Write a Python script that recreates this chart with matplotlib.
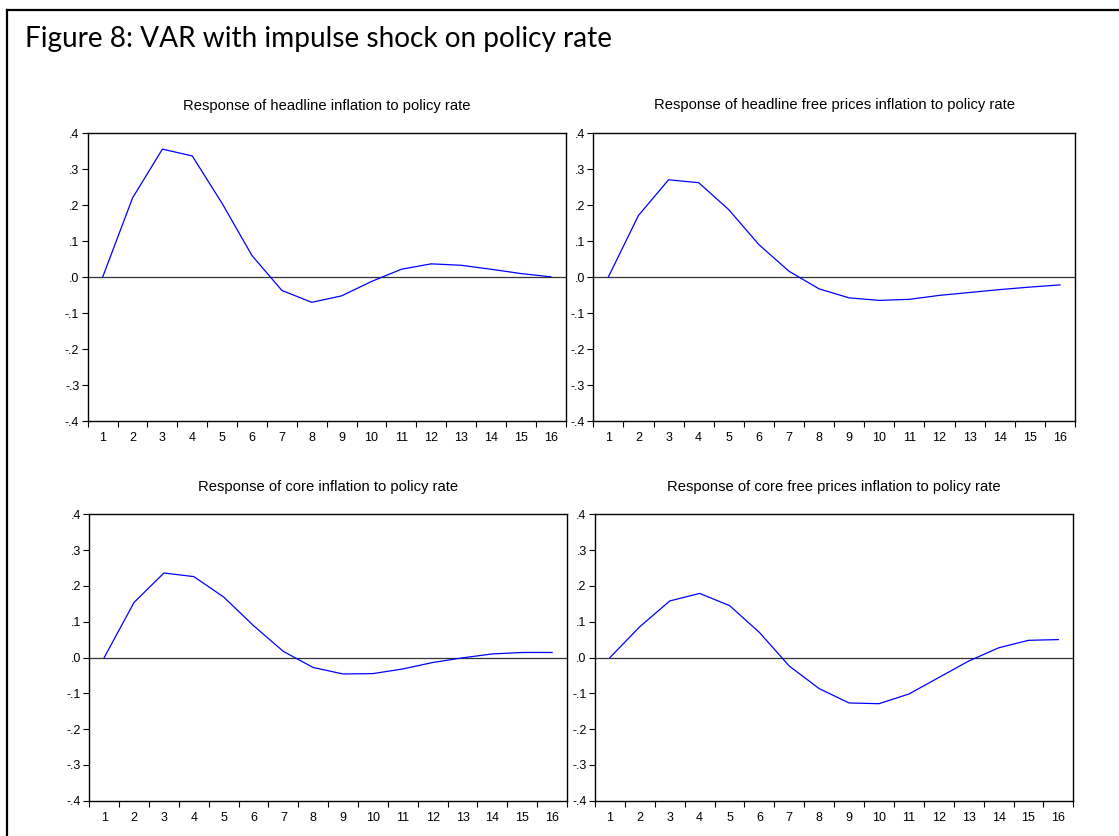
import matplotlib
matplotlib.use("Agg")
import matplotlib.pyplot as plt
from matplotlib.lines import Line2D
from matplotlib.ticker import FixedLocator, FixedFormatter

periods = list(range(1, 17))

headline = [0.0, 0.220, 0.356, 0.337, 0.205, 0.060, -0.037, -0.070, -0.052, -0.012,
            0.022, 0.037, 0.033, 0.022, 0.010, 0.001]
headline_free = [0.0, 0.171, 0.270, 0.262, 0.187, 0.090, 0.016, -0.033, -0.058, -0.065,
                 -0.062, -0.051, -0.043, -0.035, -0.028, -0.022]
core = [0.0, 0.154, 0.236, 0.226, 0.169, 0.089, 0.017, -0.028, -0.046, -0.045,
        -0.032, -0.014, -0.001, 0.010, 0.014, 0.014]
core_free = [0.0, 0.086, 0.158, 0.179, 0.145, 0.070, -0.024, -0.087, -0.127, -0.129,
             -0.102, -0.056, -0.010, 0.027, 0.048, 0.050]

titles = ["Response of headline inflation to policy rate",
          "Response of headline free prices inflation to policy rate",
          "Response of core inflation to policy rate",
          "Response of core free prices inflation to policy rate"]
series = [headline, headline_free, core, core_free]

y_ticks = [-0.4, -0.3, -0.2, -0.1, 0.0, 0.1, 0.2, 0.3, 0.4]
y_labels = ["-.4", "-.3", "-.2", "-.1", ".0", ".1", ".2", ".3", ".4"]
main_title = "Figure 8: VAR with impulse shock on policy rate"

W, H = 1119, 836
fig = plt.figure(figsize=(W / 100, H / 100), dpi=100)
fig.patch.set_facecolor("white")

# panel rectangles in pixels (left, top, right, bottom)
rects = [(87.7, 133.3, 565.7, 421.0),
         (593.3, 133.0, 1075.0, 421.0),
         (89.3, 514.3, 567.0, 800.7),
         (595.0, 514.3, 1073.3, 800.7)]

for (l, t, r, b), title, vals in zip(rects, titles, series):
    ax = fig.add_axes([l / W, 1 - b / H, (r - l) / W, (b - t) / H])
    ax.plot(periods, vals, color="#0000FF", lw=0.9, zorder=3)
    ax.axhline(0, color="#333333", lw=0.9, zorder=2)
    ax.set_xlim(0.5, 16.5)
    ax.set_ylim(-0.4, 0.4)
    ax.xaxis.set_major_locator(FixedLocator([p + 0.5 for p in [0] + periods]))
    ax.xaxis.set_major_formatter(FixedFormatter([""] * 17))
    ax.xaxis.set_minor_locator(FixedLocator(periods))
    ax.xaxis.set_minor_formatter(FixedFormatter([str(p) for p in periods]))
    ax.tick_params(axis="x", which="major", direction="out", length=4, width=0.8,
                   color="black")
    ax.tick_params(axis="x", which="minor", length=0, pad=8, labelsize=9,
                   labelfontfamily="Liberation Sans")
    ax.set_yticks(y_ticks)
    ax.set_yticklabels(y_labels)
    ax.tick_params(axis="y", direction="out", length=4, width=0.8, labelsize=9,
                   pad=2, labelfontfamily="Liberation Sans")
    for sp in ax.spines.values():
        sp.set_linewidth(1.0)
        sp.set_color("black")
    ax.set_title(title, fontsize=10.6, family="Liberation Sans", pad=17)

fig.text(25 / W, 1 - 47 / H, main_title, fontsize=20.2, family="Lato",
         ha="left", va="baseline")

# outer frame (top and left edges)
fig.add_artist(Line2D([6.5 / W, 1.0], [1 - 10 / H, 1 - 10 / H],
                      transform=fig.transFigure, color="black", lw=1.6))
fig.add_artist(Line2D([6.5 / W, 6.5 / W], [1 - 10 / H, 0.0],
                      transform=fig.transFigure, color="black", lw=1.6))

fig.savefig("out.png", dpi=100, facecolor="white")
